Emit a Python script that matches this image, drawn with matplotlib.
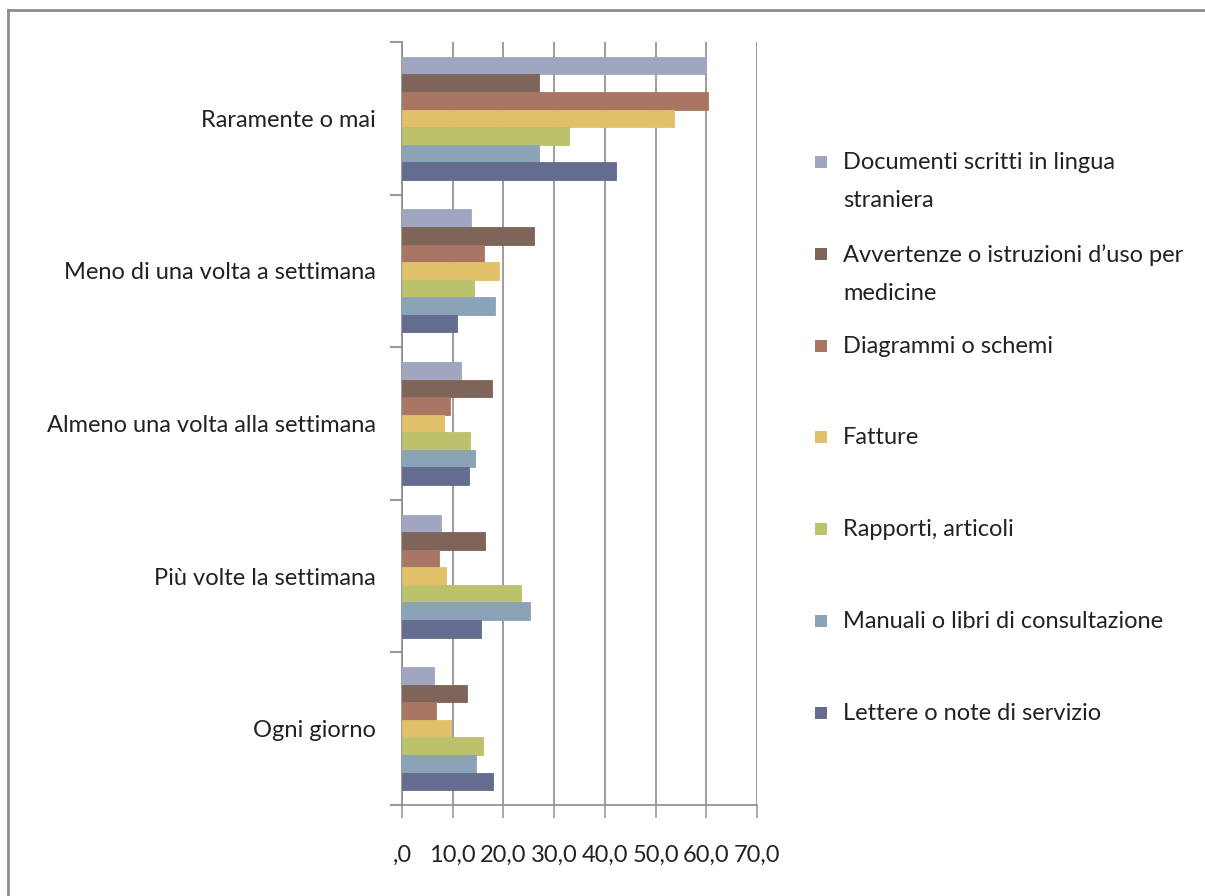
import numpy as np
import matplotlib.pyplot as plt
from matplotlib.lines import Line2D
from matplotlib.patches import Rectangle

plt.rcParams['font.family'] = ['Lato', 'DejaVu Sans']

categories = ['Ogni giorno', 'Più volte la settimana', 'Almeno una volta alla settimana',
              'Meno di una volta a settimana', 'Raramente o mai']

series_names = ['Documenti scritti in lingua\nstraniera',
                'Avvertenze o istruzioni d\u2019uso per\nmedicine',
                'Diagrammi o schemi',
                'Fatture',
                'Rapporti, articoli',
                'Manuali o libri di consultazione',
                'Lettere o note di servizio']

# values per series, ordered as categories (Ogni giorno ... Raramente o mai)
documenti = [6.4, 7.6, 11.6, 13.7, 60.0]
avvertenze = [12.8, 16.3, 17.8, 26.0, 27.1]
diagrammi = [6.8, 7.2, 9.4, 16.1, 60.4]
fatture = [9.7, 8.7, 8.3, 19.2, 53.6]
rapporti = [15.9, 23.4, 13.5, 14.1, 32.9]
manuali = [14.5, 25.2, 14.3, 18.3, 27.1]
lettere = [17.9, 15.5, 13.3, 10.8, 42.1]

series_values = [documenti, avvertenze, diagrammi, fatture, rapporti, manuali, lettere]
colors = ['#a0a5c0', '#7f645a', '#a87663', '#e0c068', '#bbc26b', '#8ba3b6', '#646c8f']

xticks = [0, 10, 20, 30, 40, 50, 60, 70]
xtick_labels = [',0', '10,0', '20,0', '30,0', '40,0', '50,0', '60,0', '70,0']

W, H = 1205, 896
fig = plt.figure(figsize=(W / 100, H / 100), dpi=100)
ax = fig.add_axes([402 / W, 1 - 805 / H, (757 - 402) / W, (805 - 42) / H])

y = np.arange(len(categories))
h = 0.115
n = len(series_values)
for i, (vals, col) in enumerate(zip(series_values, colors)):
    ax.barh(y + (n / 2 - 0.5 - i) * h, vals, height=h, color=col,
            edgecolor=col, linewidth=0.6, zorder=3)

ax.set_xlim(0, 70)
ax.set_ylim(-0.5, len(categories) - 0.5)
ax.set_xticks(xticks)
ax.set_xticklabels(xtick_labels, fontsize=17, color='#222222')
ax.tick_params(axis='x', direction='out', length=9, width=1.2, color='#9a9a9a', pad=20)
ax.set_yticks(y)
ax.set_yticklabels(categories, fontsize=17, color='#222222')
ax.tick_params(axis='y', which='major', length=0, pad=19)
ax.set_yticks(np.arange(len(categories) + 1) - 0.5, minor=True)
ax.tick_params(axis='y', which='minor', direction='out', length=9, width=1.5, color='#9a9a9a')

ax.grid(axis='x', color='#8c8c8c', linewidth=1.2, zorder=0)
for s in ['top', 'right']:
    ax.spines[s].set_visible(False)
for s in ['left', 'bottom']:
    ax.spines[s].set_color('#8c8c8c')
    ax.spines[s].set_linewidth(1.2)

# legend drawn by hand to keep Excel-like spacing
leg_x, leg_y0, leg_dy = 815 / W, 1 - 162 / H, 91.8 / H
for i, (name, col) in enumerate(zip(series_names, colors)):
    yy = leg_y0 - i * leg_dy
    fig.add_artist(Rectangle((leg_x, yy - 6 / H), 12 / W, 12 / H, facecolor=col,
                             edgecolor='none', transform=fig.transFigure))
    fig.text(843 / W, yy + 10 / H, name, fontsize=17, color='#222222', va='top',
             ha='left', linespacing=2.0)

# chart frame (only top and left visible in the crop)
fig.add_artist(Line2D([8 / W, 8 / W], [0, 1 - 10 / H], color='#8c8c8c', lw=2,
                      transform=fig.transFigure))
fig.add_artist(Line2D([8 / W, 1], [1 - 10 / H, 1 - 10 / H], color='#8c8c8c', lw=2,
                      transform=fig.transFigure))

fig.savefig('out.png', dpi=100)
